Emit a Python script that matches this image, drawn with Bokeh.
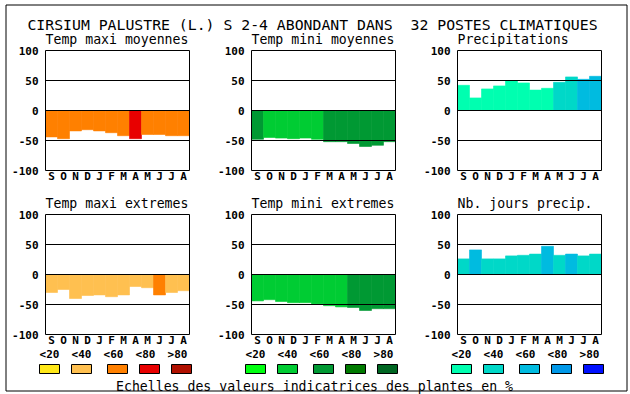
from bokeh.plotting import figure
from bokeh.models import Range1d
from bokeh.embed import file_html
from bokeh.resources import INLINE
from bokeh.core.properties import value

# ---------------- data ----------------
months = ["S", "O", "N", "D", "J", "F", "M", "A", "M", "J", "J", "A"]
y_ticks = [100, 50, 0, -50, -100]
y_tick_labels = ["100", "50", "0", "-50", "-100"]
grid_values = [50, 0, -50]
class_labels = ["<20", "<40", "<60", "<80", ">80"]

# the double space before "32" is kept visible with a no-break space
title_text = "CIRSIUM PALUSTRE (L.) S 2-4 ABONDANT DANS \u00a032 POSTES CLIMATIQUES"
footer_text = "Echelles des valeurs indicatrices des plantes en %"

panel_titles = ["Temp maxi moyennes", "Temp mini moyennes", "Precipitations",
                "Temp maxi extremes", "Temp mini extremes", "Nb. jours precip."]

temp_maxi_moy = [-44, -47, -34, -32, -34, -37, -42, -47, -40, -40, -42, -42]
temp_maxi_moy_cls = [2, 2, 2, 2, 2, 2, 2, 3, 2, 2, 2, 2]

temp_mini_moy = [-48, -45, -46, -47, -46, -48, -52, -52, -55, -60, -58, -52]
temp_mini_moy_cls = [2, 1, 1, 1, 1, 1, 2, 2, 2, 2, 2, 2]

precipitations = [42, 21, 36, 41, 49, 46, 34, 37, 47, 56, 52, 57]
precipitations_cls = [0, 0, 0, 0, 0, 0, 0, 0, 1, 1, 2, 2]

temp_maxi_ext = [-30, -25, -40, -35, -34, -37, -34, -20, -22, -34, -30, -27]
temp_maxi_ext_cls = [1, 1, 1, 1, 1, 1, 1, 1, 1, 2, 1, 1]

temp_mini_ext = [-44, -42, -45, -47, -47, -49, -52, -54, -55, -60, -57, -57]
temp_mini_ext_cls = [1, 1, 1, 1, 1, 1, 1, 1, 2, 2, 2, 2]

nb_jours_precip = [26, 41, 26, 26, 31, 32, 34, 47, 32, 34, 31, 34]
nb_jours_precip_cls = [1, 2, 1, 1, 1, 1, 1, 2, 1, 2, 1, 1]

palette_temp = ["#FFE818", "#FFC050", "#FF8000", "#E80000", "#B01000"]
palette_green = ["#00FF10", "#00CC33", "#009933", "#007A00", "#006622"]
palette_blue = ["#00FFB0", "#00D8C8", "#00BBE0", "#0098E8", "#0010FF"]

# ---------------- layout ----------------
W, H = 630, 394
OX, OY = 0, 0
col_left = [45, 251, 457]         # left edge of each panel column (px)
row_top = [50, 214]               # top edge (value 100) of each panel row (px)
PX_MONTH = 12.0
PX_UNIT = 0.6                     # px per value unit
FONT = value("DejaVu Sans Mono")

p = figure(width=W, height=H, x_range=Range1d(OX, OX + W), y_range=Range1d(OY + H, OY),
           output_backend="svg", toolbar_location=None,
           x_axis_location=None, y_axis_location=None, min_border=0)
p.xgrid.visible = False
p.ygrid.visible = False
p.outline_line_color = None
p.background_fill_color = "white"
p.border_fill_color = "white"

xr, yr = {}, {}
for c, L in enumerate(col_left):
    xr[f"x{c}"] = Range1d((OX - L) / PX_MONTH, (OX + W - L) / PX_MONTH)
for r, T in enumerate(row_top):
    yr[f"y{r}"] = Range1d(100 - (OY + H - T) / PX_UNIT, 100 - (OY - T) / PX_UNIT)
p.extra_x_ranges = xr
p.extra_y_ranges = yr

# outer border
p.quad(left=[5.5], right=[626.5], top=[4.5], bottom=[390.5],
       fill_color=None, line_color="black", line_width=1)

# main title
p.text(x=[312], y=[23.5], text=[title_text], text_font=FONT, text_font_size="14.8px",
       text_align="center", text_baseline="alphabetic", text_color="black")

panels = [
    (temp_maxi_moy, temp_maxi_moy_cls, palette_temp, 0, 0),
    (temp_mini_moy, temp_mini_moy_cls, palette_green, 1, 0),
    (precipitations, precipitations_cls, palette_blue, 2, 0),
    (temp_maxi_ext, temp_maxi_ext_cls, palette_temp, 0, 1),
    (temp_mini_ext, temp_mini_ext_cls, palette_green, 1, 1),
    (nb_jours_precip, nb_jours_precip_cls, palette_blue, 2, 1),
]

xs = [i + 0.5 for i in range(len(months))]
for k, (vals, cls, pal, c, r) in enumerate(panels):
    xn, yn = f"x{c}", f"y{r}"
    colors = [pal[i] for i in cls]
    p.vbar(x=xs, top=vals, bottom=0, width=1.0, fill_color=colors, line_color=colors,
           line_width=0.6, x_range_name=xn, y_range_name=yn)
    # horizontal lines at 50, 0, -50
    p.segment(x0=[0] * len(grid_values), x1=[len(months)] * len(grid_values),
              y0=grid_values, y1=grid_values, line_color="black", line_width=1,
              x_range_name=xn, y_range_name=yn)
    # frame
    p.quad(left=[0], right=[len(months)], top=[y_ticks[0]], bottom=[y_ticks[-1]],
           fill_color=None, line_color="black", line_width=1,
           x_range_name=xn, y_range_name=yn)
    # y tick labels
    p.text(x=[-7.0 / PX_MONTH] * len(y_ticks), y=y_ticks, text=y_tick_labels,
           text_font=FONT, text_font_size="11px", text_font_style="bold",
           text_align="right", text_baseline="middle", text_color="black",
           x_range_name=xn, y_range_name=yn)
    # month labels
    p.text(x=xs, y=[y_ticks[-1] - 6.3 / PX_UNIT] * len(months), text=months,
           text_font=FONT, text_font_size="11px", text_font_style="bold",
           text_align="center", text_baseline="middle", text_color="black",
           x_range_name=xn, y_range_name=yn)
    # panel title
    p.text(x=[0], y=[y_ticks[0] + 11.3 / PX_UNIT], text=[panel_titles[k]],
           text_font=FONT, text_font_size="13.2px", text_align="left",
           text_baseline="alphabetic", text_color="black",
           x_range_name=xn, y_range_name=yn)

# legends (class scales) under each column
box_offsets = [0, 32, 68, 100, 132]
palettes = [palette_temp, palette_green, palette_blue]
for c, L in enumerate(col_left):
    pal = palettes[c]
    p.text(x=[L + 4 + 32 * i for i in range(5)], y=[354] * 5, text=class_labels,
           text_font=FONT, text_font_size="11px", text_font_style="bold",
           text_align="center", text_baseline="middle", text_color="black")
    lefts = [L - 6 + o for o in box_offsets]
    p.quad(left=lefts, right=[l + 20 for l in lefts], top=[364] * 5, bottom=[373] * 5,
           fill_color=pal, line_color="black", line_width=1)

# footer
p.text(x=[314], y=[386], text=[footer_text], text_font=FONT, text_font_size="13.2px",
       text_align="center", text_baseline="alphabetic", text_color="black")

open("out.html", "w").write(file_html(p, INLINE))
